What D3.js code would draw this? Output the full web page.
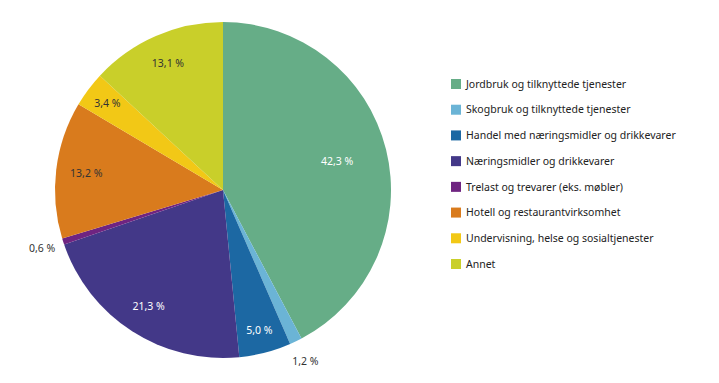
<!DOCTYPE html>
<html><head><meta charset="utf-8">
<script src="https://cdn.jsdelivr.net/npm/d3@7"></script>
<style>body{margin:0;background:#fff;}svg{display:block;font-family:"Noto Sans",sans-serif;}</style>
</head><body><svg id="c" width="719" height="383"></svg>
<script>
const categories = ["Jordbruk og tilknyttede tjenester","Skogbruk og tilknyttede tjenester","Handel med næringsmidler og drikkevarer","Næringsmidler og drikkevarer","Trelast og trevarer (eks. møbler)","Hotell og restaurantvirksomhet","Undervisning, helse og sosialtjenester","Annet"];
const values = [42.3, 1.2, 5.0, 21.3, 0.6, 13.2, 3.4, 13.1];
const colors = ["#66ad87","#6bb4d6","#1c68a3","#433888","#6f2481","#d97b1d","#f2c816","#c9cf2a"];
const labelColors = ["#fff","#333","#fff","#fff","#333","#333","#333","#333"];

const svg = d3.select("#c");
const cx = 223, cy = 190, R = 168;
const fmt = v => d3.format(".1f")(v).replace(".", ",") + " %";
const data = categories.map((c,i)=>({c, v: values[i], i}));
const pie = d3.pie().value(d=>d.v).sort(null);
const arc = d3.arc().innerRadius(0).outerRadius(R);
const arcs = pie(data);
const g = svg.append("g").attr("transform",`translate(${cx},${cy})`);
g.selectAll("path").data(arcs).join("path").attr("d",arc).attr("fill",d=>colors[d.data.i]);
g.selectAll("text").data(arcs).join("text")
  .attr("transform",d=>{
    const v=d.data.v; const lr = v<2 ? R+22 : (v>30 ? R*0.7 : (v<8 ? R*0.86 : R*0.82));
    const a=(d.startAngle+d.endAngle)/2;
    return `translate(${Math.sin(a)*lr},${-Math.cos(a)*lr})`;})
  .attr("text-anchor","middle").attr("dy","0.35em")
  .attr("font-size",10.5).attr("fill",d=>labelColors[d.data.i])
  .text(d=>fmt(d.data.v));

const leg = svg.append("g").attr("transform","translate(451,84)");
const y = d3.scalePoint().domain(categories).range([0, 180]);
const items = leg.selectAll("g").data(data).join("g").attr("transform",d=>`translate(0,${y(d.c)})`);
items.append("rect").attr("x",0).attr("y",-5).attr("width",10).attr("height",10).attr("fill",d=>colors[d.i]);
items.append("text").attr("x",15).attr("dy","0.35em").attr("font-size",10.5).attr("fill","#222").text(d=>d.c);
</script></body></html>
